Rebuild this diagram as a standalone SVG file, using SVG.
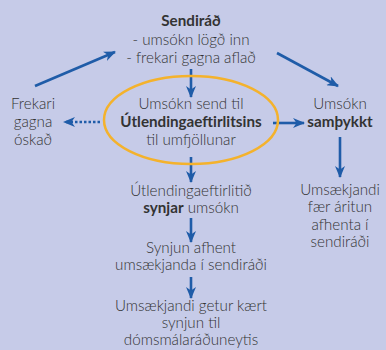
<svg xmlns="http://www.w3.org/2000/svg" width="386" height="350" viewBox="0 0 386 350">
<defs>
<style>
text{font-family:Lato,"Open Sans","Liberation Sans",sans-serif;font-size:15.2px;font-weight:300;fill:#333;text-anchor:middle}
.b{font-weight:700}
.c{stroke:#1f5ca8;stroke-width:2.6;fill:none}
</style>
<marker id="ah" viewBox="0 0 12 10" refX="11" refY="5" markerWidth="12" markerHeight="10" markerUnits="userSpaceOnUse" orient="auto">
<path d="M0,0 L12,5 L0,10 L3.5,5 Z" fill="#1f5ca8"/>
</marker>
</defs>
<rect width="386" height="350" fill="#c6cbe8"/>
<g id="connectors">
<line class="c" x1="35" y1="86" x2="115" y2="52" marker-end="url(#ah)"/>
<line class="c" x1="277" y1="53" x2="338" y2="86" marker-end="url(#ah)"/>
<line class="c" x1="191" y1="69" x2="191" y2="97" marker-end="url(#ah)"/>
<line class="c" x1="100" y1="122" x2="64" y2="122" stroke-dasharray="2.5,2" marker-end="url(#ah)"/>
<line class="c" x1="273" y1="123" x2="304" y2="123" marker-end="url(#ah)"/>
<line class="c" x1="340" y1="137" x2="340" y2="177" marker-end="url(#ah)"/>
<line class="c" x1="191" y1="157" x2="191" y2="182" marker-end="url(#ah)"/>
<line class="c" x1="191" y1="218" x2="191" y2="242" marker-end="url(#ah)"/>
<line class="c" x1="191" y1="277" x2="191" y2="298" marker-end="url(#ah)"/>
</g>
<g id="sendirad">
<text x="191" y="26" class="b">Sendiráð</text>
<text x="191" y="45">- umsókn lögð inn</text>
<text x="191" y="63">- frekari gagna aflað</text>
</g>
<g id="umsokn-send">
<ellipse cx="191" cy="120" rx="87" ry="44" fill="none" stroke="#f4b22c" stroke-width="2.5"/>
<text x="191" y="109">Umsókn send til</text>
<text x="191" y="127" class="b">Útlendingaeftirlitsins</text>
<text x="191" y="145">til umfjöllunar</text>
</g>
<g id="frekari">
<text x="33" y="109">Frekari</text>
<text x="33" y="127">gagna</text>
<text x="33" y="145">óskað</text>
</g>
<g id="samthykkt">
<text x="340" y="109">Umsókn</text>
<text x="340" y="127" class="b">samþykkt</text>
</g>
<g id="aritun">
<text x="340" y="195">Umsækjandi</text>
<text x="340" y="212">fær áritun</text>
<text x="340" y="230">afhenta í</text>
<text x="340" y="247">sendiráði</text>
</g>
<g id="synjar">
<text x="191" y="196">Útlendingaeftirlitið</text>
<text x="191" y="213"><tspan class="b">synjar</tspan> umsókn</text>
</g>
<g id="afhent">
<text x="191" y="253">Synjun afhent</text>
<text x="191" y="270">umsækjanda í sendiráði</text>
</g>
<g id="kaert">
<text x="191" y="311">Umsækjandi getur kært</text>
<text x="191" y="328">synjun til</text>
<text x="191" y="345">dómsmálaráðuneytis</text>
</g>
</svg>
